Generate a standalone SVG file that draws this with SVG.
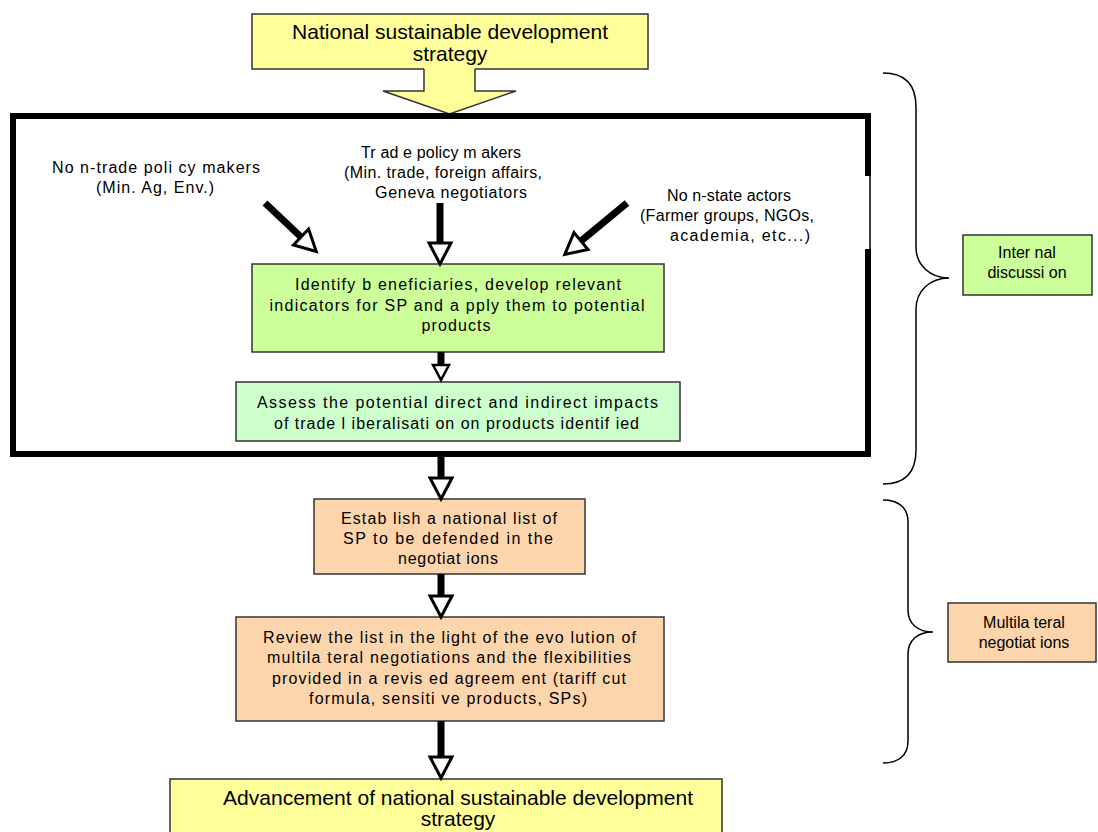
<svg xmlns="http://www.w3.org/2000/svg" width="1098" height="832" viewBox="0 0 1098 832">
<style>
text{font-family:"Liberation Sans",Arial,sans-serif;fill:#000;text-anchor:middle}
.t15{font-size:16px}
.t16{font-size:16px}
.t21{font-size:21px}
.box{stroke:#333;stroke-width:1.5}
.yel{fill:#ffff99}
.grn{fill:#ccff99}
.grn2{fill:#ccffcc}
.org{fill:#fdd5ad}
.shaft{stroke:#000;stroke-width:7;fill:none}
.brace{fill:none;stroke:#000;stroke-width:1.5}
</style>
<defs>
<marker id="hb" markerUnits="userSpaceOnUse" viewBox="-3 -15 28 30" markerWidth="28" markerHeight="30" refX="0" refY="0" orient="auto" overflow="visible">
<path d="M0,-11 L21,0 L0,11 Z" fill="#fff" stroke="#000" stroke-width="3" stroke-linejoin="miter"/>
</marker>
<marker id="hs" markerUnits="userSpaceOnUse" viewBox="-3 -12 22 24" markerWidth="22" markerHeight="24" refX="0" refY="0" orient="auto" overflow="visible">
<path d="M0,-8 L15,0 L0,8 Z" fill="#fff" stroke="#000" stroke-width="2.5" stroke-linejoin="miter"/>
</marker>
</defs>

<g id="top-strategy">
<rect class="box yel" x="252" y="14" width="396" height="55"/>
<path class="yel" d="M424,67 L424,91 L383,91 L449.5,114 L516,91 L475,91 L475,67 Z" stroke="none"/>
<path d="M424,69 L424,91 L383,91 L449.5,114 L516,91 L475,91 L475,69" fill="none" stroke="#333" stroke-width="1.5"/>
<text class="t21" x="450" y="39" textLength="316" lengthAdjust="spacingAndGlyphs">National sustainable development</text>
<text class="t21" x="450" y="61">strategy</text>
</g>

<g id="frame">
<path d="M13,176 L13,116 M10,116 L871,116 M868,113 L868,176 M868,249 L868,457 M871,454 L10,454 M13,457 L13,113" fill="none" stroke="#000" stroke-width="6"/>
<line x1="870" y1="176" x2="870" y2="249" stroke="#000" stroke-width="1.5"/>
</g>

<g id="trade-policy-makers">
<text class="t15" x="441" y="158" textLength="160" lengthAdjust="spacing">Tr ad e policy m akers</text>
<text class="t15" x="443" y="178" textLength="198" lengthAdjust="spacing">(Min. trade, foreign affairs,</text>
<text class="t15" x="451" y="198" textLength="152" lengthAdjust="spacing">Geneva negotiators</text>
</g>

<g id="non-trade-policy-makers">
<text class="t15" x="156" y="173" textLength="208" lengthAdjust="spacing">No n-trade poli cy makers</text>
<text class="t15" x="155" y="193" textLength="118" lengthAdjust="spacing">(Min. Ag, Env.)</text>
</g>

<g id="non-state-actors">
<text class="t15" x="729" y="201" textLength="124" lengthAdjust="spacing">No n-state actors</text>
<text class="t15" x="727" y="221" textLength="174" lengthAdjust="spacing">(Farmer groups, NGOs,</text>
<text class="t15" x="740" y="241" textLength="140" lengthAdjust="spacing">academia, etc...)</text>
</g>

<g id="identify">
<rect class="box grn" x="252" y="264" width="412" height="88"/>
<text class="t16" x="458" y="290" textLength="326" lengthAdjust="spacing">Identify b eneficiaries, develop relevant</text>
<text class="t16" x="457" y="311" textLength="375" lengthAdjust="spacing">indicators for SP and a pply them to potential</text>
<text class="t16" x="456" y="331" textLength="69" lengthAdjust="spacing">products</text>
</g>

<g id="assess">
<rect class="box grn2" x="236" y="382" width="444" height="59"/>
<text class="t16" x="457.5" y="408" textLength="401" lengthAdjust="spacing">Assess the potential direct and indirect impacts</text>
<text class="t16" x="456.5" y="429" textLength="365" lengthAdjust="spacing">of trade l iberalisati on on products identif ied</text>
</g>

<g id="establish">
<rect class="box org" x="314" y="499" width="271" height="75"/>
<text class="t16" x="449" y="524" textLength="216" lengthAdjust="spacing">Estab lish a national list of</text>
<text class="t16" x="448" y="544" textLength="210" lengthAdjust="spacing">SP to be defended in the</text>
<text class="t16" x="448" y="564" textLength="100" lengthAdjust="spacing">negotiat ions</text>
</g>

<g id="review">
<rect class="box org" x="236" y="617" width="428" height="104"/>
<text class="t16" x="449.5" y="643" textLength="373" lengthAdjust="spacing">Review the list in the light of the evo lution of</text>
<text class="t16" x="449" y="663" textLength="364" lengthAdjust="spacing">multila teral negotiations and the flexibilities</text>
<text class="t16" x="449" y="684" textLength="354" lengthAdjust="spacing">provided in a revis ed agreem ent (tariff cut</text>
<text class="t16" x="448" y="704" textLength="278" lengthAdjust="spacing">formula, sensiti ve products, SPs)</text>
</g>

<g id="advancement">
<rect class="box yel" x="170" y="779" width="552" height="70"/>
<text class="t21" x="458" y="805" textLength="470" lengthAdjust="spacingAndGlyphs">Advancement of national sustainable development</text>
<text class="t21" x="458" y="826">strategy</text>
</g>

<g id="internal-discussion">
<rect class="box grn" x="963" y="235" width="129" height="60"/>
<text class="t16" x="1027" y="258">Inter nal</text>
<text class="t16" x="1027" y="278">discussi on</text>
</g>

<g id="multilateral-negotiations">
<rect class="box org" x="948" y="603" width="148" height="59"/>
<text class="t16" x="1024" y="628">Multila teral</text>
<text class="t16" x="1024" y="648">negotiat ions</text>
</g>

<g id="braces">
<path class="brace" d="M883,73 C905,73 916,85 916,107 L916,247 C916,265 930,278 949,278 C930,278 916,291 916,309 L916,450 C916,472 905,484 883,484"/>
<path class="brace" d="M883,500 C899,500 908,508 908,522 L908,610 C908,624 918,632 933,632 C918,632 908,640 908,654 L908,741 C908,755 899,763 883,763"/>
</g>

<g id="connectors">
<line class="shaft" x1="265" y1="203" x2="301" y2="237" marker-end="url(#hb)"/>
<line class="shaft" x1="440" y1="203" x2="440" y2="243" marker-end="url(#hb)"/>
<line class="shaft" x1="627" y1="203" x2="581" y2="241" marker-end="url(#hb)"/>
<line class="shaft" x1="441" y1="352" x2="441" y2="365" marker-end="url(#hs)"/>
<line class="shaft" x1="441" y1="457" x2="441" y2="478" marker-end="url(#hb)"/>
<line class="shaft" x1="441" y1="574" x2="441" y2="596" marker-end="url(#hb)"/>
<line class="shaft" x1="441" y1="721" x2="441" y2="757" marker-end="url(#hb)"/>
</g>
</svg>
